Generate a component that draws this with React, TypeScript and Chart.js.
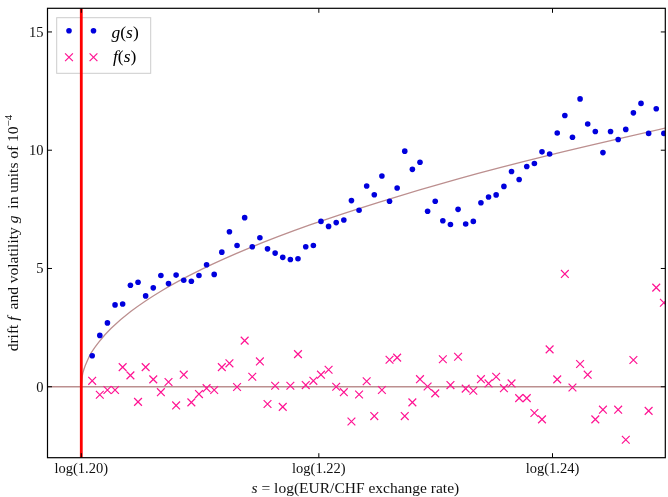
import { useEffect, useRef } from 'react';
import { Chart, registerables } from 'chart.js';

Chart.register(...registerables);

// s = log(EUR/CHF) bin centres
const sValues = [
  0.18308, 0.18361, 0.18414, 0.18467, 0.18520, 0.18574, 0.18627, 0.18680, 0.18733, 0.18786,
  0.18839, 0.18892, 0.18945, 0.18998, 0.19051, 0.19104, 0.19157, 0.19210, 0.19263, 0.19316,
  0.19369, 0.19422, 0.19475, 0.19528, 0.19581, 0.19634, 0.19687, 0.19740, 0.19794, 0.19847,
  0.19900, 0.19953, 0.20006, 0.20059, 0.20112, 0.20165, 0.20218, 0.20271, 0.20324, 0.20377,
  0.20430, 0.20483, 0.20536, 0.20589, 0.20642, 0.20695, 0.20748, 0.20801, 0.20854, 0.20907,
  0.20960, 0.21013, 0.21066, 0.21119, 0.21173, 0.21226, 0.21279, 0.21332, 0.21385, 0.21438,
  0.21491, 0.21544, 0.21597, 0.21650, 0.21703, 0.21756, 0.21809, 0.21862, 0.21915, 0.21968,
  0.22021, 0.22074, 0.22127, 0.22180, 0.22233, 0.22286,
];

// volatility g(s), units of 1e-4
const gValues = [
  1.31, 2.17, 2.70, 3.46, 3.50, 4.29, 4.42, 3.84, 4.18, 4.70,
  4.36, 4.72, 4.50, 4.46, 4.70, 5.16, 4.75, 5.69, 6.55, 5.97,
  7.15, 5.92, 6.30, 5.83, 5.65, 5.47, 5.38, 5.41, 5.92, 5.97,
  6.99, 6.78, 6.94, 7.05, 7.87, 7.46, 8.49, 8.12, 8.91, 7.84,
  8.40, 9.96, 9.19, 9.49, 7.42, 7.84, 7.02, 6.86, 7.50, 6.88,
  6.99, 7.78, 8.02, 8.11, 8.47, 9.10, 8.76, 9.31, 9.44, 9.93,
  9.84, 10.73, 11.47, 10.55, 12.17, 11.11, 10.79, 9.90, 10.79, 10.45,
  10.88, 11.58, 11.98, 10.71, 11.75, 10.71,
];

// drift f(s), units of 1e-4 (null = not shown)
const fValues: (number | null)[] = [
  0.25, -0.34, -0.14, -0.14, 0.83, 0.48, -0.64, 0.83, 0.31, -0.23,
  0.20, -0.79, 0.51, -0.66, -0.31, -0.06, -0.14, 0.83, 0.99, -0.01,
  1.95, 0.42, 1.07, -0.73, 0.04, -0.85, 0.04, 1.38, 0.07, 0.25,
  0.51, 0.72, 0.00, -0.23, -1.47, -0.33, 0.23, -1.24, -0.14, 1.14,
  1.23, -1.24, -0.66, 0.32, 0.01, -0.28, 1.16, 0.07, 1.27, -0.08,
  -0.17, 0.32, 0.14, 0.42, -0.06, 0.14, -0.48, -0.48, -1.11, -1.38,
  1.58, 0.31, 4.77, -0.03, 0.96, 0.51, -1.38, -0.97, null, -0.97,
  -2.24, 1.13, null, -1.02, 4.19, 3.55,
];

// fitted volatility curve
const fitS = [
  0.18232, 0.18239, 0.18253, 0.18274, 0.18301, 0.18357, 0.18440, 0.18578,
  0.18786, 0.19062, 0.19408, 0.19823, 0.20307, 0.20861, 0.21483, 0.22314,
];
const fitG = [
  0.0, 0.45, 0.78, 1.10, 1.43, 1.91, 2.47, 3.19,
  4.04, 4.94, 5.88, 6.84, 7.81, 8.80, 9.78, 10.96,
];

const xTickRates = [1.2, 1.22, 1.24];
const xTickLabels = ['log(1.20)', 'log(1.22)', 'log(1.24)'];
const yTicks = [0, 5, 10, 15];
const floorRate = 1.2;

const X_MIN = 0.17997;
const X_MAX = 0.22296;
const Y_MIN = -3;
const Y_MAX = 16;

const W = 672;
const H = 497;
const FONT = '"Liberation Serif", "Times New Roman", serif';
const BLUE = '#0000dd';
const PINK = '#ff1493';
const ROSY = '#bc8f8f';

type Seg = { t: string; it?: boolean; sz?: number; dy?: number };

function drawRich(
  ctx: CanvasRenderingContext2D,
  segs: Seg[],
  x: number,
  y: number,
  size: number,
  align: 'left' | 'center' | 'right',
) {
  const fontOf = (s: Seg) => `${s.it ? 'italic ' : ''}${s.sz ?? size}px ${FONT}`;
  let total = 0;
  const widths = segs.map((s) => {
    ctx.font = fontOf(s);
    const w = ctx.measureText(s.t).width;
    total += w;
    return w;
  });
  let cx = align === 'left' ? x : align === 'center' ? x - total / 2 : x - total;
  ctx.textAlign = 'left';
  ctx.textBaseline = 'alphabetic';
  segs.forEach((s, i) => {
    ctx.font = fontOf(s);
    ctx.fillText(s.t, cx, y + (s.dy ?? 0));
    cx += widths[i];
  });
}

const overlay = {
  id: 'overlay',
  beforeDatasetsDraw(chart: any) {
    const ctx: CanvasRenderingContext2D = chart.ctx;
    ctx.save();
    // legend box
    const lx = 56.7, ly = 17.7, lw = 94, lh = 55.6;
    ctx.fillStyle = 'rgba(255,255,255,0.8)';
    ctx.fillRect(lx, ly, lw, lh);
    ctx.strokeStyle = '#cccccc';
    ctx.lineWidth = 1;
    ctx.strokeRect(lx, ly, lw, lh);
    // g markers
    ctx.fillStyle = BLUE;
    [69, 93.5].forEach((mx) => {
      ctx.beginPath();
      ctx.arc(mx, 30.7, 2.8, 0, Math.PI * 2);
      ctx.fill();
    });
    // f markers
    ctx.strokeStyle = PINK;
    ctx.lineWidth = 1.2;
    [69, 93.5].forEach((mx) => {
      const r = 3.9, my = 57.3;
      ctx.beginPath();
      ctx.moveTo(mx - r, my - r);
      ctx.lineTo(mx + r, my + r);
      ctx.moveTo(mx - r, my + r);
      ctx.lineTo(mx + r, my - r);
      ctx.stroke();
    });
    ctx.fillStyle = '#000';
    drawRich(ctx, [{ t: 'g', it: true }, { t: '(' }, { t: 's', it: true }, { t: ')' }], 111.5, 37.8, 17.5, 'left');
    drawRich(ctx, [{ t: 'f', it: true }, { t: '(' }, { t: 's', it: true }, { t: ')' }], 113, 62, 17.5, 'left');
    ctx.restore();
  },
  afterDraw(chart: any) {
    const ctx: CanvasRenderingContext2D = chart.ctx;
    const a = chart.chartArea;
    const xs = chart.scales.x;
    const ys = chart.scales.y;
    ctx.save();
    // frame
    ctx.strokeStyle = '#000';
    ctx.lineWidth = 1.2;
    ctx.strokeRect(a.left, a.top, a.right - a.left, a.bottom - a.top);
    // ticks (inward, all four sides)
    const tl = 4.5;
    ctx.lineWidth = 1;
    ctx.beginPath();
    xTickRates.forEach((r) => {
      const px = xs.getPixelForValue(Math.log(r));
      ctx.moveTo(px, a.bottom);
      ctx.lineTo(px, a.bottom - tl);
      ctx.moveTo(px, a.top);
      ctx.lineTo(px, a.top + tl);
    });
    yTicks.forEach((v) => {
      const py = ys.getPixelForValue(v);
      ctx.moveTo(a.left, py);
      ctx.lineTo(a.left + tl, py);
      ctx.moveTo(a.right, py);
      ctx.lineTo(a.right - tl, py);
    });
    ctx.stroke();
    // tick labels
    ctx.fillStyle = '#111';
    xTickRates.forEach((r, i) => {
      const px = xs.getPixelForValue(Math.log(r));
      drawRich(ctx, [{ t: xTickLabels[i] }], px, 473, 14.5, 'center');
    });
    yTicks.forEach((v) => {
      const py = ys.getPixelForValue(v);
      drawRich(ctx, [{ t: String(v) }], 43.5, py + 5, 14.5, 'right');
    });
    // x axis label
    drawRich(
      ctx,
      [{ t: 's', it: true }, { t: ' = log(EUR/CHF exchange rate)' }],
      (a.left + a.right) / 2 - 1,
      493,
      15.5,
      'center',
    );
    // y axis label
    ctx.translate(18, (a.top + a.bottom) / 2);
    ctx.rotate(-Math.PI / 2);
    drawRich(
      ctx,
      [
        { t: 'drift ' },
        { t: 'f', it: true },
        { t: '\u2009 and volatility ' },
        { t: 'g', it: true },
        { t: '\u2009 in units of 10' },
        { t: '\u22124', sz: 11, dy: -6 },
      ],
      0,
      0,
      15.5,
      'center',
    );
    ctx.restore();
  },
};

export default function App() {
  const ref = useRef<HTMLCanvasElement | null>(null);

  useEffect(() => {
    if (!ref.current) return;
    const gPoints = sValues.map((x, i) => ({ x, y: gValues[i] }));
    const fPoints = sValues
      .map((x, i) => ({ x, y: fValues[i] }))
      .filter((p) => p.y !== null) as { x: number; y: number }[];
    const fitPoints = fitS.map((x, i) => ({ x, y: fitG[i] }));
    const floorS = Math.log(floorRate);

    const chart = new Chart(ref.current, {
      type: 'scatter',
      data: {
        datasets: [
          {
            type: 'line',
            label: 'floor',
            data: [
              { x: floorS, y: Y_MIN },
              { x: floorS, y: Y_MAX },
            ],
            borderColor: '#ff0000',
            borderWidth: 2.8,
            pointRadius: 0,
            order: 0,
          } as any,
          {
            label: 'g(s)',
            data: gPoints,
            pointStyle: 'circle',
            pointRadius: 2.8,
            pointBackgroundColor: BLUE,
            pointBorderWidth: 0,
            order: 1,
          },
          {
            label: 'f(s)',
            data: fPoints,
            pointStyle: 'crossRot',
            pointRadius: 5.5,
            pointBorderColor: PINK,
            pointBackgroundColor: PINK,
            pointBorderWidth: 1.2,
            order: 2,
          },
          {
            type: 'line',
            label: 'fit',
            data: fitPoints,
            borderColor: ROSY,
            borderWidth: 1.3,
            pointRadius: 0,
            cubicInterpolationMode: 'monotone',
            order: 3,
          } as any,
          {
            type: 'line',
            label: 'zero',
            data: [
              { x: X_MIN, y: 0 },
              { x: X_MAX, y: 0 },
            ],
            borderColor: ROSY,
            borderWidth: 1.3,
            pointRadius: 0,
            order: 4,
          } as any,
        ],
      },
      options: {
        responsive: false,
        animation: false,
        devicePixelRatio: 1,
        layout: { padding: { left: 47.5, right: W - 669, top: 8.3, bottom: H - 457.7 } },
        plugins: { legend: { display: false }, tooltip: { enabled: false } },
        scales: {
          x: { type: 'linear', min: X_MIN, max: X_MAX, display: false },
          y: { type: 'linear', min: Y_MIN, max: Y_MAX, display: false },
        },
      },
      plugins: [overlay],
    });
    return () => chart.destroy();
  }, []);

  return (
    <div style={{ position: 'fixed', left: 0, top: 0, width: 668, height: 497, overflow: 'hidden', background: '#fff' }}>
      <canvas ref={ref} width={W} height={H} style={{ width: W, height: H, display: 'block' }} />
    </div>
  );
}
